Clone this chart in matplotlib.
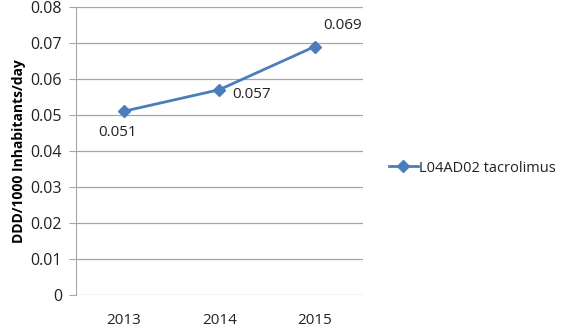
import matplotlib

matplotlib.use("Agg")
import matplotlib.pyplot as plt
import numpy as np

years = ["2013", "2014", "2015"]
values = [0.051, 0.057, 0.069]
series_name = "L04AD02 tacrolimus"
y_ticks = [0, 0.01, 0.02, 0.03, 0.04, 0.05, 0.06, 0.07, 0.08]
y_tick_labels = ["0", "0.01", "0.02", "0.03", "0.04", "0.05", "0.06", "0.07", "0.08"]

BLUE = "#4a7ebb"
GRID = "#a6a6a6"
INK = "#222222"

plt.rcParams.update({"font.family": ["Open Sans", "DejaVu Sans"], "font.size": 11, "text.color": INK})

fig = plt.figure(figsize=(5.61, 3.28), dpi=100)
ax = fig.add_axes([76 / 561, 1 - 294.7 / 328, (362.5 - 76) / 561, (294.7 - 7) / 328])

x = np.arange(1, len(years) + 1)
ax.plot(x, values, color=BLUE, linewidth=2.0, marker="D", markersize=6, label=series_name, clip_on=False, zorder=3)

ax.set_xlim(0.5, 3.5)
ax.set_ylim(0, 0.08)
ax.set_yticks(y_ticks, y_tick_labels)
ax.set_xticks(x, years)
ax.grid(axis="y", color=GRID, linewidth=0.9)
ax.set_axisbelow(True)
for side in ("top", "right", "bottom"):
    ax.spines[side].set_visible(False)
ax.spines["left"].set_color(GRID)
ax.tick_params(axis="y", length=5, color=GRID, pad=5, labelsize=11.5, labelcolor=INK)
ax.tick_params(axis="x", length=0, pad=13, labelsize=11, labelcolor=INK)
ax.set_ylabel("DDD/1000 Inhabitants/day", fontweight="bold", fontsize=10, labelpad=3)

offsets = [(-0.06, -0.0058, "center", "center"), (0.14, -0.0014, "left", "center"),
           (0.09, 0.0058, "left", "center")]
for xi, v, (dx, dy, ha, va) in zip(x, values, offsets):
    ax.text(xi + dx, v + dy, f"{v:.3f}", ha=ha, va=va, fontsize=11)

fig.legend(loc="center left", bbox_to_anchor=(383 / 561, 1 - 168 / 328), frameon=False,
           handlelength=2.0, handletextpad=0.1, fontsize=10.5, borderaxespad=0)

fig.savefig("out.png", dpi=100)
